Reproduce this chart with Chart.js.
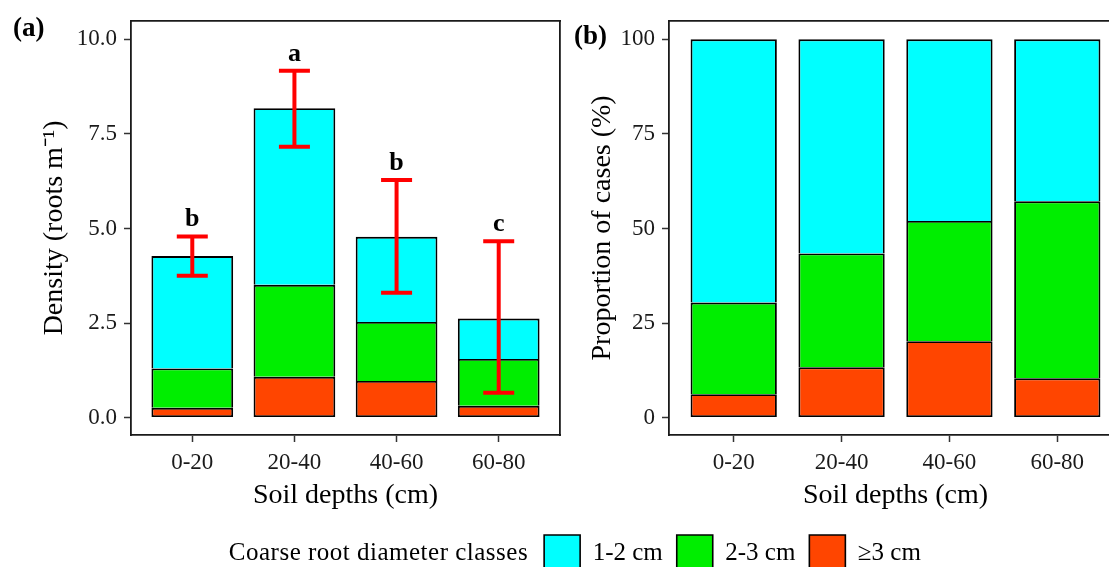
<!DOCTYPE html>
<html>
<head>
<meta charset="utf-8">
<title>Coarse root density and proportion by soil depth</title>
<script src="https://cdn.jsdelivr.net/npm/chart.js@4"></script>
<style>
    html, body { margin: 0; padding: 0; background: #fff; overflow: hidden; width: 1109px; height: 567px; }
    canvas { position: absolute; top: 0; left: 0; }
</style>
</head>
<body>
<canvas id="panelB" width="1122" height="581"></canvas>
<canvas id="panelA" width="562" height="522"></canvas>
<script>
const depths = ["0-20", "20-40", "40-60", "60-80"];
const classNames = ["1-2 cm", "2-3 cm", "≥3 cm"];
const classColors = ["#00FFFF", "#00EE00", "#FF4500"];
const legendTitle = "Coarse root diameter classes";

// (a) density, roots m-1, one array per diameter class
const density12 = [2.97, 4.67, 2.25, 1.07];
const density23 = [1.04, 2.43, 1.56, 1.24];
const density3 = [0.26, 1.08, 0.97, 0.31];
const errLow = [3.75, 7.16, 3.30, 0.66];
const errHigh = [4.79, 9.17, 6.28, 4.66];
const sigLetters = ["b", "a", "b", "c"];
const densityTicks = [0, 2.5, 5, 7.5, 10];

// (b) proportion of cases, %
const prop12 = [69.6, 56.6, 48.0, 42.8];
const prop23 = [24.2, 30.1, 31.8, 46.8];
const prop3 = [6.2, 13.3, 20.2, 10.4];
const propTicks = [0, 25, 50, 75, 100];

const serif = "'Liberation Serif', 'Times New Roman', serif";
const ink = "#1a1a1a";
Chart.defaults.font.family = serif;
Chart.defaults.color = "#000";

const toPoints = arr => arr.map((v, i) => ({x: i + 1, y: v}));

function classBars(label, values, color, bottom) {
    return {
        label: label,
        data: toPoints(values),
        backgroundColor: color,
        borderColor: "#000",
        borderWidth: 1.9,
        borderSkipped: bottom ? false : "start",
        categoryPercentage: 0.8,
        barPercentage: 1
    };
}

function panelScales(p) {
    return {
        x: {
            type: "linear", position: "bottom", min: 0.4, max: 4.6, offset: false, stacked: true,
            afterBuildTicks: s => { s.ticks = depths.map((d, i) => ({value: i + 1})); },
            afterFit: s => { s.height = p.xHeight; },
            ticks: {callback: v => depths[v - 1], font: {size: 23}, color: ink, padding: 7, maxRotation: 0, autoSkip: false},
            grid: {display: true, drawOnChartArea: false, drawTicks: true, tickLength: 7, tickColor: "#333", tickWidth: 1.5, offset: false},
            border: {display: true, color: ink, width: 1.8},
            title: {display: true, text: "Soil depths (cm)", font: {size: 28}, color: "#000", padding: {top: 0, bottom: p.xTitlePad}}
        },
        xTop: {
            type: "linear", position: "top", min: 0.4, max: 4.6, offset: false, display: true,
            afterFit: s => { s.height = 19; },
            ticks: {display: false},
            grid: {display: false},
            border: {display: true, color: ink, width: 1.8}
        },
        y: {
            type: "linear", position: "left", min: p.yMin, max: p.yMax, stacked: true,
            afterBuildTicks: s => { s.ticks = p.yTicks.map(v => ({value: v})); },
            afterFit: s => { s.width = p.yWidth; },
            ticks: {callback: p.yFormat, font: {size: 23}, color: ink, padding: 7},
            grid: {display: true, drawOnChartArea: false, drawTicks: true, tickLength: 7, tickColor: "#333", tickWidth: 1.5},
            border: {display: true, color: ink, width: 1.8},
            title: {display: true, text: p.yTitle, font: {size: 28}, color: "#000", padding: {top: p.yTitlePad, bottom: 0}}
        }
    };
}

const panelTags = {
    id: "panelTags",
    afterDatasetsDraw(chart) {
        const {ctx, scales} = chart;
        ctx.save();
        ctx.fillStyle = "#000";
        if (chart.canvas.id === "panelA") {
            ctx.textAlign = "center";
            ctx.textBaseline = "alphabetic";
            ctx.font = "bold 26px " + serif;
            sigLetters.forEach((t, i) => {
                ctx.fillText(t, scales.x.getPixelForValue(i + 1), scales.yErr.getPixelForValue(errHigh[i]) - 10);
            });
            ctx.textAlign = "left";
            ctx.font = "bold 27px " + serif;
            ctx.fillText("(a)", 13, 36);
        } else {
            ctx.textAlign = "left";
            ctx.font = "bold 27px " + serif;
            ctx.fillText("(b)", 574, 37);
        }
        ctx.restore();
    },
    afterDraw(chart) {
        if (chart.canvas.id !== "panelB") return;
        const first = chart.legend.legendHitBoxes[0];
        const ctx = chart.ctx;
        ctx.save();
        ctx.fillStyle = "#000";
        ctx.font = "25px " + serif;
        ctx.letterSpacing = "0.5px";
        ctx.textAlign = "right";
        ctx.textBaseline = "middle";
        ctx.fillText(legendTitle, first.left - 16, first.top + first.height / 2);
        ctx.restore();
    }
};

const chartA = new Chart(document.getElementById("panelA"), {
    type: "bar",
    data: {
        datasets: [
            {
                type: "line", label: "caps", yAxisID: "yErr",
                data: [...toPoints(errLow), ...toPoints(errHigh)],
                showLine: false, pointStyle: "line", pointRadius: 15.5,
                pointBorderWidth: 4, pointBorderColor: "#FF0000", borderColor: "#FF0000"
            },
            {
                label: "stems", yAxisID: "yErr", grouped: false,
                data: errLow.map((v, i) => ({x: i + 1, y: [v, errHigh[i]]})),
                backgroundColor: "#FF0000", borderWidth: 0, barThickness: 4, inflateAmount: 0
            },
            classBars(classNames[2], density3, classColors[2], true),
            classBars(classNames[1], density23, classColors[1], false),
            classBars(classNames[0], density12, classColors[0], false)
        ]
    },
    options: {
        responsive: false,
        animation: false,
        devicePixelRatio: 1,
        events: [],
        layout: {padding: 0, autoPadding: false},
        plugins: {legend: {display: false}, tooltip: {enabled: false}},
        scales: Object.assign(panelScales({
            xHeight: 87, xTitlePad: 10,
            yMin: -0.46, yMax: 10.49, yTicks: densityTicks, yFormat: v => v.toFixed(1),
            yWidth: 131, yTitle: "Density (roots m⁻¹)", yTitlePad: 38
        }), {
            yErr: {type: "linear", display: false, min: -0.46, max: 10.49},
            yRight: {
                type: "linear", position: "right", min: 0, max: 1, display: true,
                afterFit: s => { s.width = 2; },
                ticks: {display: false}, grid: {display: false},
                border: {display: true, color: ink, width: 1.8}
            }
        })
    },
    plugins: [panelTags]
});

const chartB = new Chart(document.getElementById("panelB"), {
    type: "bar",
    data: {
        datasets: [
            classBars(classNames[2], prop3, classColors[2], true),
            classBars(classNames[1], prop23, classColors[1], false),
            classBars(classNames[0], prop12, classColors[0], false)
        ]
    },
    options: {
        responsive: false,
        animation: false,
        devicePixelRatio: 1,
        events: [],
        layout: {padding: {left: 343, top: 0, right: 0, bottom: 0}, autoPadding: false},
        plugins: {
            tooltip: {enabled: false},
            legend: {
                display: true,
                position: "bottom",
                labels: {
                    font: {size: 25},
                    color: "#000",
                    boxWidth: 36,
                    boxHeight: 36,
                    padding: 14,
                    generateLabels: () => classNames.map((t, i) => ({
                        text: t, fillStyle: classColors[i], strokeStyle: "#000", lineWidth: 1.6, hidden: false, datasetIndex: 2 - i
                    }))
                }
            }
        },
        scales: panelScales({
            xHeight: 86, xTitlePad: 9,
            yMin: -4.6, yMax: 104.9, yTicks: propTicks, yFormat: v => String(v),
            yWidth: 326, yTitle: "Proportion of cases (%)", yTitlePad: 243
        })
    },
    plugins: [panelTags]
});
</script>
</body>
</html>
